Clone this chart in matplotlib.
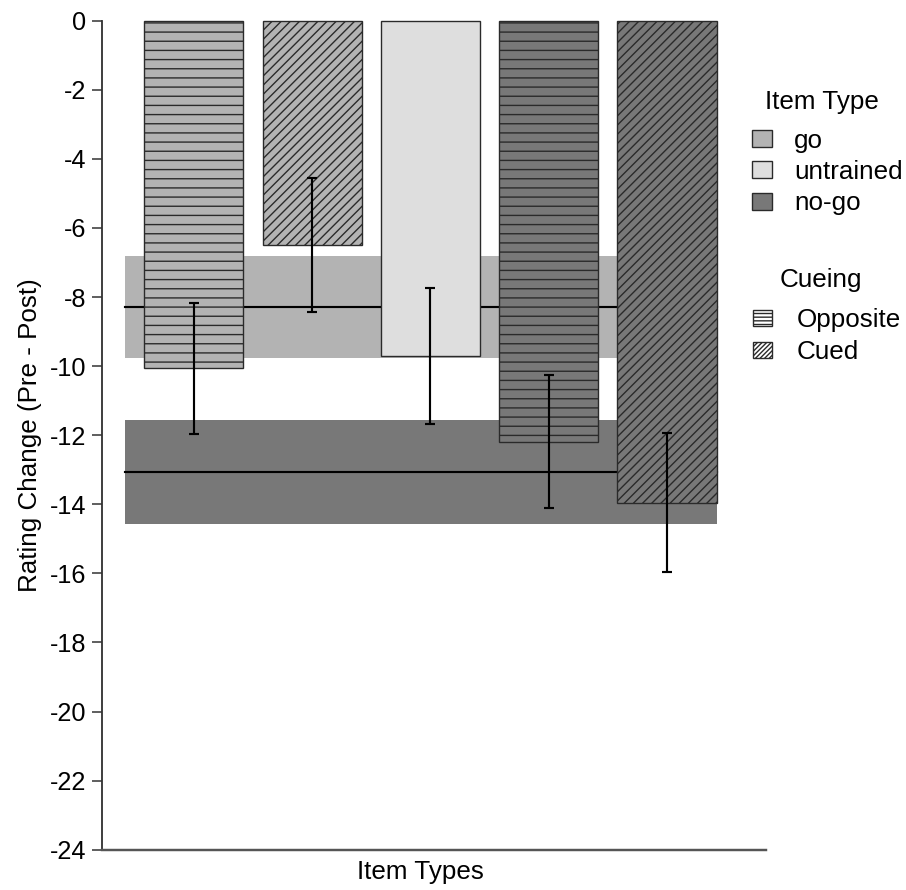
import numpy as np
import matplotlib
matplotlib.use("Agg")
import matplotlib.pyplot as plt
from matplotlib.patches import Patch

plt.rcParams["font.family"] = ["Liberation Sans", "DejaVu Sans"]
plt.rcParams["hatch.linewidth"] = 0.9

# bars: go-opposite, go-cued, untrained, nogo-opposite, nogo-cued
bar_types = ["go", "go", "untrained", "no-go", "no-go"]
bar_cueing = ["Opposite", "Cued", None, "Opposite", "Cued"]
bar_values = [-10.06, -6.50, -9.71, -12.19, -13.95]
bar_errors = [1.90, 1.94, 1.97, 1.92, 2.00]

# reference bands (mean and range) for go and no-go
band_means = {"go": -8.28, "no-go": -13.07}
band_lows = {"go": -9.77, "no-go": -14.57}
band_highs = {"go": -6.80, "no-go": -11.56}

yticks = np.arange(-24, 1, 2)
type_names = ["go", "untrained", "no-go"]
cue_names = ["Opposite", "Cued"]

type_colors = {"go": "#b3b3b3", "untrained": "#dedede", "no-go": "#787878"}
cue_hatch = {"Opposite": "--", "Cued": "////", None: None}
edge = "#2a2a2a"
fontsize = 17

fig = plt.figure(figsize=(906/110, 890/110), dpi=110)
ax = fig.add_axes([0.1123, 0.0453, 0.7332, 0.9314])

xs = np.arange(len(bar_values))
width = 0.837
band_x0 = xs[0] - width/2 - 0.166
band_x1 = xs[-1] + width/2

for key in ["go", "no-go"]:
    ax.fill_between([band_x0, band_x1], band_lows[key], band_highs[key],
                    color=type_colors[key], lw=0, zorder=1)
    ax.plot([band_x0, band_x1], [band_means[key]]*2, color="black", lw=1.4, zorder=2)

for i, x in enumerate(xs):
    ax.bar(x, bar_values[i], width=width, color=type_colors[bar_types[i]],
           edgecolor=edge, lw=0.9, hatch=cue_hatch[bar_cueing[i]], zorder=3, clip_on=False)
ax.errorbar(xs, bar_values, yerr=bar_errors, fmt="none", ecolor="black",
            elinewidth=1.4, capsize=3.4, capthick=1.4, zorder=4)

ax.set_xlim(-0.778, 4.837)
ax.set_ylim(-24, 0)
ax.set_yticks(yticks)
ax.set_yticklabels([str(t) for t in yticks])
ax.set_xticks([])
for s in ["top", "right"]:
    ax.spines[s].set_visible(False)
ax.spines["left"].set_color("#333333")
ax.spines["bottom"].set_color("#555555")
ax.spines["left"].set_linewidth(1.2)
ax.spines["bottom"].set_linewidth(1.6)
ax.tick_params(axis="y", labelsize=16.5, length=6.5, width=1.0, pad=3.7, color="#333333")
ax.set_ylabel("Rating Change (Pre - Post)", fontsize=fontsize, labelpad=5)
ax.set_xlabel("Item Types", fontsize=fontsize, labelpad=6)
ax.xaxis.set_label_coords(0.48, -0.012, transform=ax.transAxes)
ax.xaxis.label.set_va("top")

# legends, titles placed as separate text
fig.text(0.9073, 0.8772, "Item Type", fontsize=fontsize, ha="center", va="baseline")
type_handles = [Patch(facecolor=type_colors[k], edgecolor=edge, lw=0.9) for k in type_names]
leg1 = fig.legend(type_handles, type_names, loc="upper left",
                  bbox_to_anchor=(0.8297, 0.8553), frameon=False,
                  fontsize=fontsize, borderpad=0,
                  handlelength=0.77, handleheight=0.62, handletextpad=0.86,
                  labelspacing=0.28, borderaxespad=0)

fig.text(0.9062, 0.677, "Cueing", fontsize=fontsize, ha="center", va="baseline")
cue_handles = [Patch(facecolor="white", edgecolor=edge, lw=0.9, hatch="-----"),
               Patch(facecolor="white", edgecolor=edge, lw=0.9, hatch="////////")]
leg2 = fig.legend(cue_handles, cue_names, loc="upper left",
                  bbox_to_anchor=(0.8311, 0.6542), frameon=False,
                  fontsize=fontsize, borderpad=0,
                  handlelength=0.73, handleheight=0.58, handletextpad=0.95,
                  labelspacing=0.33, borderaxespad=0)

fig.savefig("out.png", dpi=110)
